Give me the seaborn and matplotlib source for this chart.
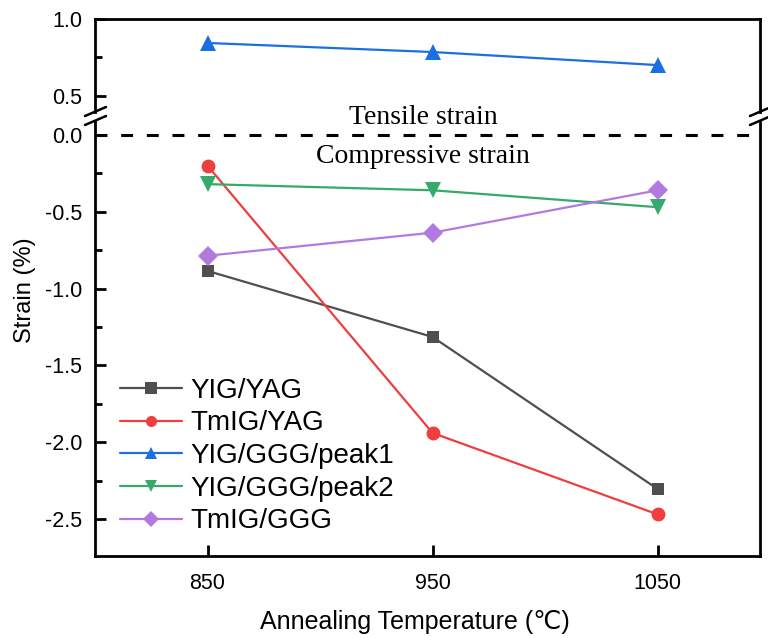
import matplotlib
matplotlib.use("Agg")
import matplotlib.pyplot as plt
from matplotlib.lines import Line2D
from matplotlib.ticker import MultipleLocator, FormatStrFormatter
import seaborn as sns
import pandas as pd

# ---- data ----
temperatures = [850, 950, 1050]
series_names = ["YIG/YAG", "TmIG/YAG", "YIG/GGG/peak1", "YIG/GGG/peak2", "TmIG/GGG"]
yig_yag = [-0.885, -1.315, -2.305]
tmig_yag = [-0.20, -1.94, -2.47]
yig_ggg_peak1 = [0.844, 0.785, 0.700]
yig_ggg_peak2 = [-0.32, -0.36, -0.47]
tmig_ggg = [-0.786, -0.636, -0.36]
x_ticks = [850, 950, 1050]

colors = ["#4f4f4f", "#ef3e3e", "#1b6fe0", "#36aa6a", "#b27ae0"]
marker_shapes = ["s", "o", "^", "v", "D"]

rows = []
for name, vals in zip(series_names, [yig_yag, tmig_yag, yig_ggg_peak1, yig_ggg_peak2, tmig_ggg]):
    for t, v in zip(temperatures, vals):
        rows.append({"T": t, "strain": v, "sample": name})
df = pd.DataFrame(rows)

sns.set_style("white")
plt.rcParams["font.family"] = ["Liberation Sans", "DejaVu Sans"]
for k in ["text.color", "axes.labelcolor", "xtick.color", "ytick.color", "axes.edgecolor"]:
    plt.rcParams[k] = "black"
plt.rcParams["axes.linewidth"] = 2.0

fig = plt.figure(figsize=(7.68, 6.38), dpi=100)
W, H = 768.0, 638.0
left, right = 95, 760
top_y0, top_y1 = 19, 112
bot_y0, bot_y1 = 121, 556
ax_top = fig.add_axes([left / W, 1 - top_y1 / H, (right - left) / W, (top_y1 - top_y0) / H])
ax_bot = fig.add_axes([left / W, 1 - bot_y1 / H, (right - left) / W, (bot_y1 - bot_y0) / H])

palette = dict(zip(series_names, colors))
markers = dict(zip(series_names, marker_shapes))

for ax in (ax_top, ax_bot):
    sns.lineplot(data=df, x="T", y="strain", hue="sample", style="sample",
                 hue_order=series_names, style_order=series_names,
                 palette=palette, markers=markers, dashes=False,
                 linewidth=1.6, markersize=10, markeredgewidth=0,
                 errorbar=None, sort=False, ax=ax, legend=(ax is ax_bot))
    for ln in ax.lines:
        if ln.get_marker() == "s":
            ln.set_markersize(9)
        elif ln.get_marker() in ("^", "v"):
            ln.set_markersize(11)

xlim = (800, 1095.5)
for ax in (ax_top, ax_bot):
    ax.set_xlim(*xlim)
    ax.set_xlabel("")
    ax.set_ylabel("")
    for s in ax.spines.values():
        s.set_linewidth(2.0)
        s.set_color("black")

ax_top.set_ylim(0.3945, 1.0)
ax_bot.set_ylim(-2.741, 0.091)

ax_top.spines["bottom"].set_visible(False)
ax_bot.spines["top"].set_visible(False)
ax_top.set_xticks([])

ax_top.yaxis.set_major_locator(MultipleLocator(0.5))
ax_top.yaxis.set_minor_locator(MultipleLocator(0.25))
ax_bot.yaxis.set_major_locator(MultipleLocator(0.5))
ax_bot.yaxis.set_minor_locator(MultipleLocator(0.25))
ax_bot.set_xticks(x_ticks)
ax_bot.set_xticklabels([str(v) for v in x_ticks])

for ax in (ax_top, ax_bot):
    ax.tick_params(axis="y", which="major", direction="in", length=8, width=2,
                   labelsize=15.5, pad=9, left=True, right=False)
    ax.tick_params(axis="y", which="minor", direction="in", length=5, width=2,
                   left=True, right=False)
    ax.yaxis.set_major_formatter(FormatStrFormatter("%.1f"))
ax_bot.tick_params(axis="x", which="major", direction="in", length=8, width=2,
                   labelsize=15.5, pad=12, bottom=True, top=False)

ax_bot.axhline(0, color="black", linestyle=(0, (3.9, 4.5)), linewidth=2.2, zorder=1)

def px_to_x(px):
    return xlim[0] + (px - left) / (right - left) * (xlim[1] - xlim[0])

ax_bot.text(px_to_x(423), 0.117, "Tensile strain", ha="center", va="center",
            fontsize=20, family="Liberation Serif", clip_on=False)
ax_bot.text(px_to_x(423), -0.14, "Compressive strain", ha="center", va="center",
            fontsize=20, family="Liberation Serif")

fig.text(415 / W, 1 - 622 / H, "Annealing Temperature (\u2103)", ha="center", va="center",
         fontsize=18, family=["Liberation Sans", "DejaVu Sans"])
fig.text(25 / W, 1 - 290 / H, "Strain (%)", rotation=90, ha="center", va="center",
         fontsize=17)

# legend
handles, labels = ax_bot.get_legend_handles_labels()
for h in handles:
    h.set_markersize(8)
    h.set_linewidth(1.6)
    h.set_markeredgewidth(0)
ax_bot.legend(handles, labels, loc="center left", bbox_to_anchor=(0.0376, 0.23),
              frameon=False, fontsize=20, handlelength=2.23, handletextpad=0.29,
              labelspacing=0.24, borderpad=0, borderaxespad=0)

# break marks
def fig_line(x0, y0, x1, y1):
    fig.add_artist(Line2D([x0 / W, x1 / W], [1 - y0 / H, 1 - y1 / H],
                          transform=fig.transFigure, color="black", lw=1.8))

for xc in (left, right):
    fig_line(xc - 10, 116, xc + 11, 107)
    fig_line(xc - 10, 125, xc + 11, 116)

fig.savefig("out.png", dpi=100)
